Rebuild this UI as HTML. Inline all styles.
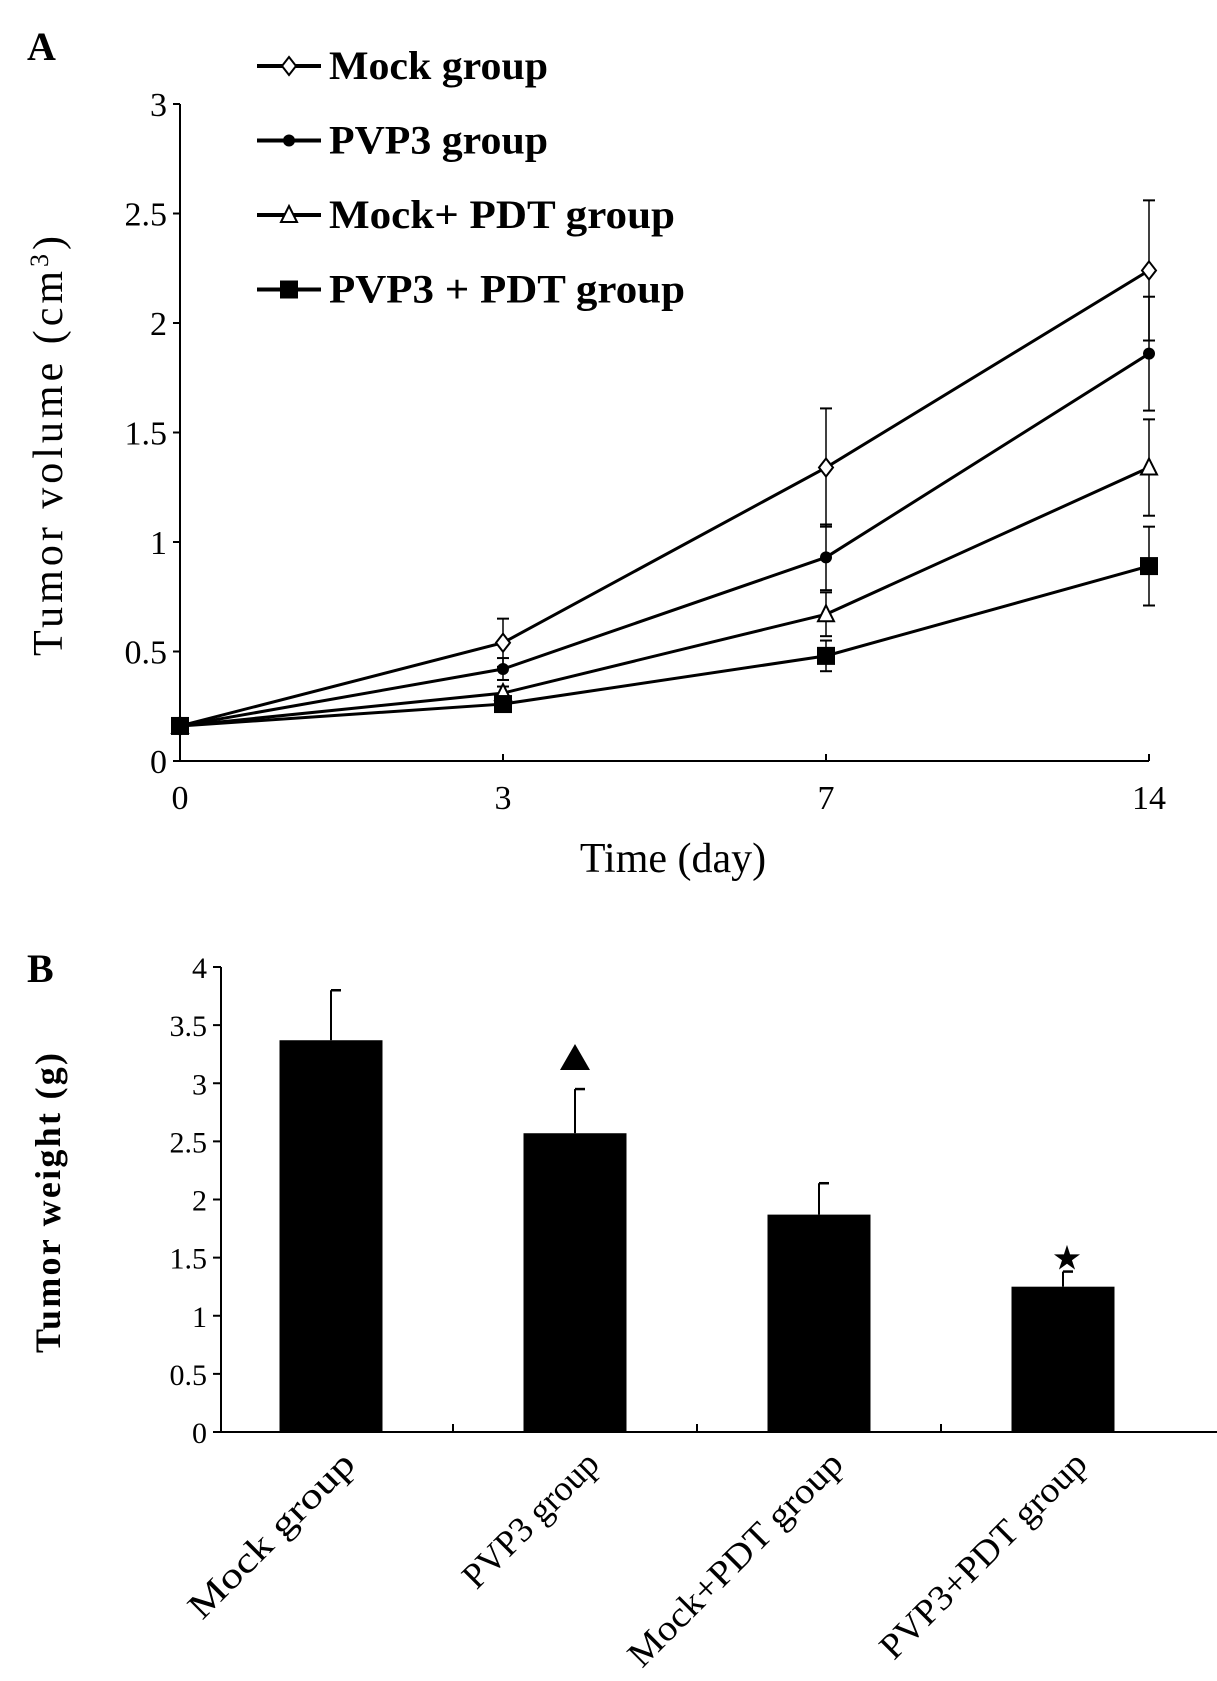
<!DOCTYPE html>
<html><head><meta charset="utf-8"><style>
body{margin:0;background:#fff}
svg{display:block;font-family:"Liberation Serif",serif}
</style></head><body>
<svg id="s" width="1217" height="1681" viewBox="0 0 1217 1681" xmlns="http://www.w3.org/2000/svg">
<text x="27" y="60" font-size="40" font-weight="bold">A</text>
<text x="27" y="982" font-size="40" font-weight="bold">B</text>
<text transform="translate(62,446) rotate(-90)" text-anchor="middle" font-size="42" textLength="420">Tumor volume (cm<tspan dy="-14" font-size="26">3</tspan><tspan dy="14">)</tspan></text>
<text x="673" y="872" text-anchor="middle" font-size="42">Time (day)</text>
<text transform="translate(60,1203) rotate(-90)" text-anchor="middle" font-size="36" font-weight="bold" textLength="300">Tumor weight  (g)</text>
<g id="ga"></g><g id="gb"></g>
</svg>
<script>
const days=["0","3","7","14"];
const mock=[0.16,0.54,1.34,2.24];
const mockErr=[0,0.11,0.27,0.32];
const pvp3=[0.16,0.42,0.93,1.86];
const pvp3Err=[0,0.05,0.15,0.26];
const mockPdt=[0.16,0.31,0.67,1.34];
const mockPdtErr=[0,0.03,0.1,0.22];
const pvpPdt=[0.16,0.26,0.48,0.89];
const pvpPdtErr=[0,0.02,0.07,0.18];
const seriesNames=["Mock group","PVP3 group","Mock+ PDT group","PVP3 + PDT group"];
const yTicksA=[0,0.5,1,1.5,2,2.5,3];
const groups=["Mock group","PVP3 group","Mock+PDT group","PVP3+PDT group"];
const weights=[3.37,2.57,1.87,1.25];
const weightErr=[0.43,0.38,0.27,0.13];
const yTicksB=[0,0.5,1,1.5,2,2.5,3,3.5,4];

const NS="http://www.w3.org/2000/svg";
function mk(p,t,a){const e=document.createElementNS(NS,t);for(const k in a)e.setAttribute(k,a[k]);p.appendChild(e);return e;}
const ga=document.getElementById('ga'),gb=document.getElementById('gb');
const ax0=180,ax1=1149,ay0=761,ay1=104;
const xA=i=>ax0+(ax1-ax0)*i/(days.length-1);
const yA=v=>ay0-(ay0-ay1)*v/3;
let e=mk(ga,'line',{x1:ax0,y1:ay1,x2:ax0,y2:ay0,stroke:'#000','stroke-width':2});


e=mk(ga,'line',{x1:ax0,y1:ay0,x2:ax1,y2:ay0,stroke:'#000','stroke-width':2});


yTicksA.forEach(v=>{mk(ga,'line',{x1:ax0,y1:yA(v),x2:ax0-7,y2:yA(v),stroke:'#000','stroke-width':2});
 const t=mk(ga,'text',{x:ax0-13,y:yA(v)+12,'text-anchor':'end','font-size':34});t.textContent=v;
 
 });
days.forEach((d,i)=>{mk(ga,'line',{x1:xA(i),y1:ay0,x2:xA(i),y2:ay0-7,stroke:'#000','stroke-width':2});
 const t=mk(ga,'text',{x:xA(i),y:ay0+48,'text-anchor':'middle','font-size':34});t.textContent=d;
 
 });
const sData=[mock,pvp3,mockPdt,pvpPdt],sErr=[mockErr,pvp3Err,mockPdtErr,pvpPdtErr];
function marker(g,k,x,y){
 if(k===0)return mk(g,'path',{d:`M${x} ${y-9}L${x+7} ${y}L${x} ${y+9}L${x-7} ${y}Z`,fill:'#fff',stroke:'#000','stroke-width':2});
 if(k===1)return mk(g,'circle',{cx:x,cy:y,r:6,fill:'#000'});
 if(k===2)return mk(g,'path',{d:`M${x} ${y-9}L${x+8} ${y+7}L${x-8} ${y+7}Z`,fill:'#fff',stroke:'#000','stroke-width':2});
 return mk(g,'rect',{x:x-9,y:y-9,width:18,height:18,fill:'#000'});
}
sData.forEach((arr,k)=>{
 const g=mk(ga,'g',{});
 
 
 mk(g,'polyline',{points:arr.map((v,i)=>xA(i)+','+yA(v)).join(' '),fill:'none',stroke:'#000','stroke-width':3});
 arr.forEach((v,i)=>{const er=sErr[k][i];if(er>0){
  mk(g,'line',{x1:xA(i),y1:yA(v-er),x2:xA(i),y2:yA(v+er),stroke:'#000','stroke-width':1.5});
  mk(g,'line',{x1:xA(i)-6,y1:yA(v+er),x2:xA(i)+6,y2:yA(v+er),stroke:'#000','stroke-width':2});
  mk(g,'line',{x1:xA(i)-6,y1:yA(v-er),x2:xA(i)+6,y2:yA(v-er),stroke:'#000','stroke-width':2});}});
 arr.forEach((v,i)=>{const m=marker(g,k,xA(i),yA(v));
  
  });
 const ly=66+k*74.5;
 const lg=mk(ga,'g',{});
 
 
 mk(lg,'line',{x1:257,y1:ly,x2:321,y2:ly,stroke:'#000','stroke-width':4});
 marker(lg,k,289,ly);
 const t=mk(lg,'text',{x:329,y:ly+13,'font-size':40,'font-weight':'bold',textLength:[219,219,346,356][k],lengthAdjust:'spacingAndGlyphs'});t.textContent=seriesNames[k];
});
const bx0=221,bx1=1288,by0=1432,by1=967;
const band=244,bw=103;
const xB=i=>331+band*i;
const yB=v=>by0-(by0-by1)*v/4;
const labLen=[219,176,287,276];
e=mk(gb,'line',{x1:bx0,y1:by1,x2:bx0,y2:by0,stroke:'#000','stroke-width':2});


e=mk(gb,'line',{x1:bx0,y1:by0,x2:bx1,y2:by0,stroke:'#000','stroke-width':2});


yTicksB.forEach(v=>{mk(gb,'line',{x1:bx0,y1:yB(v),x2:bx0-8,y2:yB(v),stroke:'#000','stroke-width':2});
 const t=mk(gb,'text',{x:bx0-14,y:yB(v)+11,'text-anchor':'end','font-size':30});t.textContent=v;
 
 });
groups.forEach((gname,i)=>{
 if(i>0)mk(gb,'line',{x1:xB(i)-band/2,y1:by0,x2:xB(i)-band/2,y2:by0-8,stroke:'#000','stroke-width':2});
 const v=weights[i],er=weightErr[i];
 const r=mk(gb,'rect',{x:xB(i)-bw/2,y:yB(v),width:bw,height:by0-yB(v),fill:'#000'});
 
 
 mk(gb,'line',{x1:xB(i),y1:yB(v),x2:xB(i),y2:yB(v+er),stroke:'#000','stroke-width':2});
 mk(gb,'line',{x1:xB(i),y1:yB(v+er),x2:xB(i)+10,y2:yB(v+er),stroke:'#000','stroke-width':2.5});
 const t=mk(gb,'text',{transform:`translate(${xB(i)+26},${by0+34}) rotate(-45)`,'text-anchor':'end','font-size':36,textLength:labLen[i],lengthAdjust:'spacingAndGlyphs'});t.textContent=gname;
 
 
});
mk(gb,'line',{x1:bx1,y1:by0,x2:bx1,y2:by0-8,stroke:'#000','stroke-width':2});
const xt=xB(1),yt=yB(3.2);
e=mk(gb,'path',{d:`M${xt} ${yt-16}L${xt+15} ${yt+10}L${xt-15} ${yt+10}Z`,fill:'#000'});


e=mk(gb,'text',{x:xB(3)+4,y:yB(1.5)+12,'text-anchor':'middle','font-size':34});e.textContent='★';


</script>
</body></html>
